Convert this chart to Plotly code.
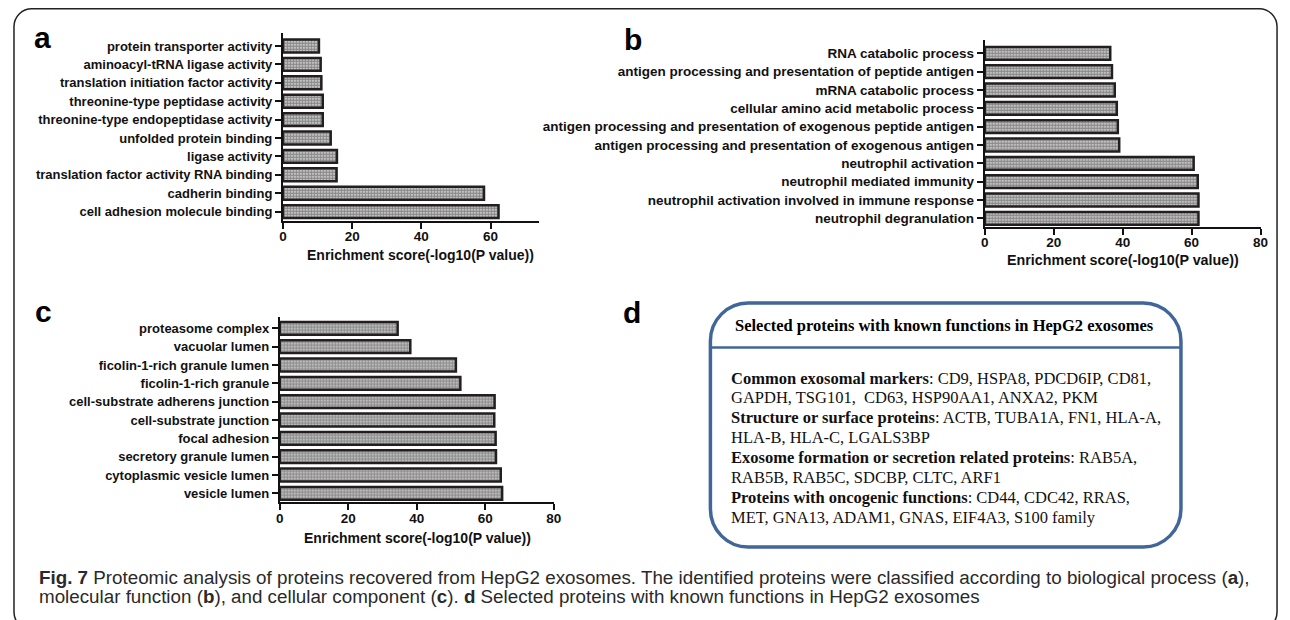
import plotly.graph_objects as go

W, H = 1290, 620
OFF = 8                      # default page margin of the html body
WF, HF = W - OFF, H - OFF    # figure size so it fills the window exactly

# ---------------- data ----------------
labels_a = ["protein transporter activity", "aminoacyl-tRNA ligase activity",
            "translation initiation factor activity", "threonine-type peptidase activity",
            "threonine-type endopeptidase activity", "unfolded protein binding",
            "ligase activity", "translation factor activity RNA binding",
            "cadherin binding", "cell adhesion molecule binding"]
values_a = [10.4, 10.9, 11.1, 11.5, 11.5, 13.8, 15.6, 15.5, 58.1, 62.3]

labels_b = ["RNA catabolic process", "antigen processing and presentation of peptide antigen",
            "mRNA catabolic process", "cellular amino acid metabolic process",
            "antigen processing and presentation of exogenous peptide antigen",
            "antigen processing and presentation of exogenous antigen",
            "neutrophil activation", "neutrophil mediated immunity",
            "neutrophil activation involved in immune response", "neutrophil degranulation"]
values_b = [36.4, 36.9, 37.7, 38.3, 38.6, 39.0, 60.6, 61.8, 62.0, 62.0]

labels_c = ["proteasome complex", "vacuolar lumen", "ficolin-1-rich granule lumen",
            "ficolin-1-rich granule", "cell-substrate adherens junction",
            "cell-substrate junction", "focal adhesion", "secretory granule lumen",
            "cytoplasmic vesicle lumen", "vesicle lumen"]
values_c = [34.4, 38.1, 51.4, 52.7, 62.7, 62.6, 63.0, 63.1, 64.5, 64.9]

x_ticks = [0, 20, 40, 60, 80]
axis_title = "Enrichment score(-log10(P value))"

box_title = "Selected proteins with known functions in HepG2 exosomes"
box_lines = [
    "<b>Common exosomal markers</b>: CD9, HSPA8, PDCD6IP, CD81,",
    "GAPDH, TSG101,  CD63, HSP90AA1, ANXA2, PKM",
    "<b>Structure or surface proteins</b>: ACTB, TUBA1A, FN1, HLA-A,",
    "HLA-B, HLA-C, LGALS3BP",
    "<b>Exosome formation or secretion related proteins</b>: RAB5A,",
    "RAB5B, RAB5C, SDCBP, CLTC, ARF1",
    "<b>Proteins with oncogenic functions</b>: CD44, CDC42, RRAS,",
    "MET, GNA13, ADAM1, GNAS, EIF4A3, S100 family",
]
caption_lines = [
    "<b>Fig. 7</b> Proteomic analysis of proteins recovered from HepG2 exosomes. The identified proteins were classified according to biological process (<b>a</b>),",
    "molecular function (<b>b</b>), and cellular component (<b>c</b>). <b>d</b> Selected proteins with known functions in HepG2 exosomes",
]

# ---------------- helpers (page pixel -> paper) ----------------
def X(px):
    return (px - OFF) / WF

def Y(py):
    return 1 - (py - OFF) / HF

def rrect(x0, y0, x1, y1, r):
    k = 0.5523 * r
    pts = [
        f"M {X(x0 + r)},{Y(y0)}",
        f"L {X(x1 - r)},{Y(y0)}",
        f"C {X(x1 - r + k)},{Y(y0)} {X(x1)},{Y(y0 + r - k)} {X(x1)},{Y(y0 + r)}",
        f"L {X(x1)},{Y(y1 - r)}",
        f"C {X(x1)},{Y(y1 - r + k)} {X(x1 - r + k)},{Y(y1)} {X(x1 - r)},{Y(y1)}",
        f"L {X(x0 + r)},{Y(y1)}",
        f"C {X(x0 + r - k)},{Y(y1)} {X(x0)},{Y(y1 - r + k)} {X(x0)},{Y(y1 - r)}",
        f"L {X(x0)},{Y(y0 + r)}",
        f"C {X(x0)},{Y(y0 + r - k)} {X(x0 + r - k)},{Y(y0)} {X(x0 + r)},{Y(y0)}",
        "Z",
    ]
    return " ".join(pts)

SANS = "Liberation Sans, Arial, sans-serif"
SERIF = "Liberation Serif, Times New Roman, serif"
BARCOL = "#231f20"

fig = go.Figure()

panels = [
    # labels, values, axis suffix, px domain x, px domain y(top,bottom), xmax, centers(top,bottom), label size
    (labels_a, values_a, "", (281.5, 540), (33, 220.7), 74, (46, 211.6), 13),
    (labels_b, values_b, "2", (990, 1268.3), (40, 226.7), 80, (53.3, 218.3), 13.5),
    (labels_c, values_c, "3", (278.3, 555), (316.7, 502.3), 80, (328.3, 493.3), 13),
]

for (labs, vals, sfx, (dx0, dx1), (dy0, dy1), xmax, (c0, c1), lsz) in panels:
    n = len(labs)
    pos = list(range(n))
    fig.add_trace(go.Bar(
        x=vals, y=pos, orientation="h", xaxis="x" + sfx, yaxis="y" + sfx, width=0.7,
        marker=dict(color="white", line=dict(color=BARCOL, width=2.5),
                    pattern=dict(shape=".", size=3, solidity=0.75,
                                 fgcolor="#2a2a2a", bgcolor="#e8e8e8")),
        showlegend=False, hoverinfo="x+y",
    ))
    sp = (c1 - c0) / (n - 1)
    yr = [n - 1 + (dy1 - c1) / sp, -(c0 - dy0) / sp]
    fig.layout["xaxis" + sfx] = dict(
        domain=[X(dx0), X(dx1)], range=[0, xmax], anchor="y" + sfx,
        tickvals=[t for t in x_ticks if t <= xmax], showgrid=False, zeroline=False,
        showline=True, linecolor="#111", linewidth=2, ticks="outside", ticklen=6,
        tickwidth=1.5, tickcolor="#111", ticklabelstandoff=-4,
        tickfont=dict(family=SANS, size=13.5, color="#111", weight="bold"),
    )
    fig.layout["yaxis" + sfx] = dict(
        domain=[Y(dy1), Y(dy0)], range=yr, anchor="x" + sfx,
        tickvals=pos, ticktext=labs, showgrid=False, zeroline=False,
        showline=True, linecolor="#111", linewidth=2, ticks="outside", ticklen=6,
        tickwidth=1.5, tickcolor="#111",
        tickfont=dict(family=SANS, size=lsz, color="#111", weight="bold"),
    )

# axis titles
for (cx, cy, sz) in [(420.5, 254.5, 14), (1129, 260, 14.3), (417, 538, 14)]:
    fig.add_annotation(x=X(cx), y=Y(cy), xref="paper", yref="paper", text=axis_title,
                       showarrow=False, xanchor="center", yanchor="middle",
                       font=dict(family=SANS, size=sz, color="#111", weight="bold"))

# panel letters
for (t, cx, cy) in [("a", 39, 37), ("b", 635, 39), ("c", 40, 311), ("d", 634, 312)]:
    fig.add_annotation(x=X(cx), y=Y(cy), xref="paper", yref="paper", text=t,
                       showarrow=False, xanchor="center", yanchor="middle",
                       font=dict(family=SANS, size=30, color="#000", weight="bold"))

# panel d box
fig.add_shape(type="path", xref="paper", yref="paper", path=rrect(713, 303, 1188, 547, 38),
              line=dict(color="#41669a", width=3.5), fillcolor="white", layer="below")
fig.add_shape(type="line", xref="paper", yref="paper", x0=X(714), x1=X(1187), y0=Y(347.5), y1=Y(347.5),
              line=dict(color="#41669a", width=2.5))
fig.add_annotation(x=X(949), y=Y(325), xref="paper", yref="paper", text="<b>" + box_title + "</b>",
                   showarrow=False, xanchor="center", yanchor="middle",
                   font=dict(family=SERIF, size=16.5, color="#000"))
for k, line in enumerate(box_lines):
    fig.add_annotation(x=X(731.5), y=Y(378 + 19.86 * k), xref="paper", yref="paper", text=line,
                       showarrow=False, xanchor="left", yanchor="middle", align="left",
                       font=dict(family=SERIF, size=16.5, color="#111"))

# caption
for k, line in enumerate(caption_lines):
    fig.add_annotation(x=X(33), y=Y(577 + 19 * k), xref="paper", yref="paper", text=line,
                       showarrow=False, xanchor="left", yanchor="middle", align="left",
                       font=dict(family=SANS, size=18.8, color="#2a2a2a"))

# outer frame
fig.add_shape(type="path", xref="paper", yref="paper", path=rrect(10, 8.8, 1285, 630, 18),
              line=dict(color="#222", width=1.5), layer="below")

fig.update_layout(width=WF, height=HF, margin=dict(l=0, r=0, t=0, b=0),
                  paper_bgcolor="white", plot_bgcolor="rgba(0,0,0,0)", bargap=0.3)

fig.write_html("out.html")
